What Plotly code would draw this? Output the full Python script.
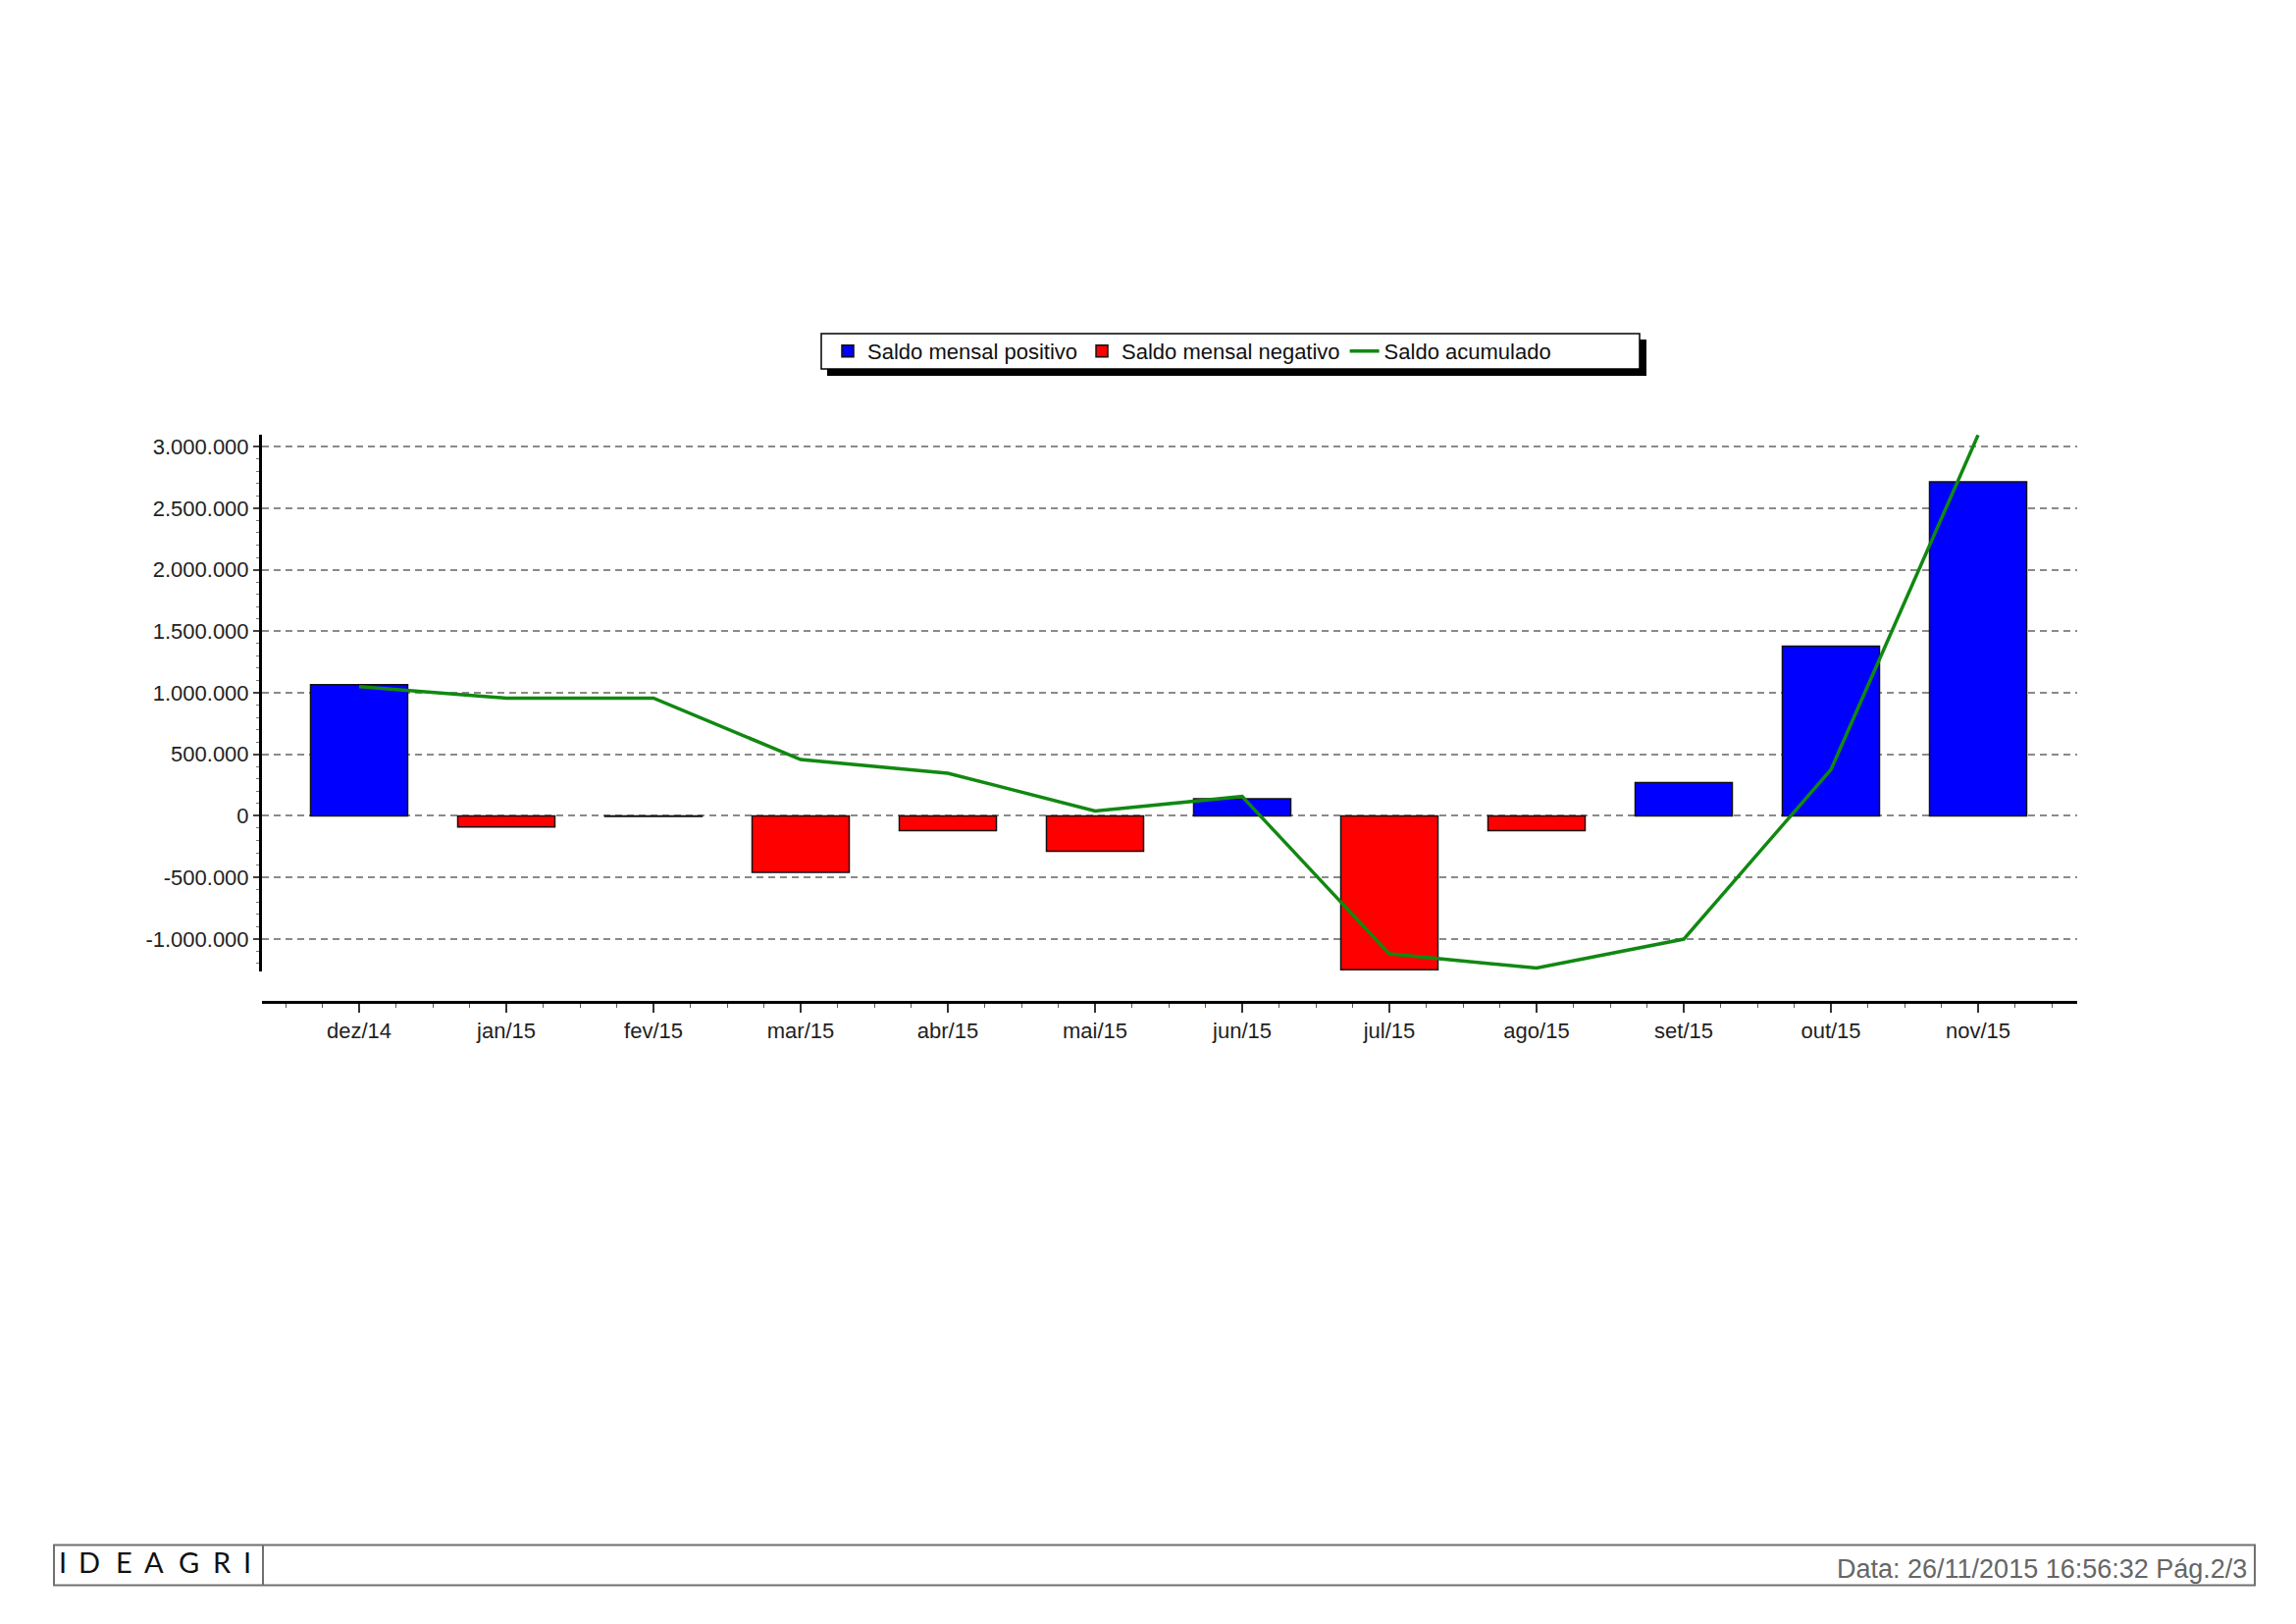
import plotly.graph_objects as go

# ---------------- data ----------------
months = ["dez/14", "jan/15", "fev/15", "mar/15", "abr/15", "mai/15",
          "jun/15", "jul/15", "ago/15", "set/15", "out/15", "nov/15"]
saldo_mensal = [1065000, -90000, -4000, -460000, -120000, -287000,
                138000, -1250000, -120000, 271000, 1378000, 2714000]
saldo_acumulado = [1050000, 957000, 957000, 457000, 346000, 40000,
                   157000, -1122000, -1237000, -1002000, 375000, 3094000]
y_tickvals = [-1000000, -500000, 0, 500000, 1000000, 1500000, 2000000, 2500000, 3000000]
y_ticktext = [f"{v:,}".replace(",", ".") for v in y_tickvals]

series_names = ["Saldo mensal positivo", "Saldo mensal negativo", "Saldo acumulado"]
footer_brand = "IDEAGRI"
footer_text = "Data: 26/11/2015 16:56:32 Pág.2/3"

# ---------------- geometry (page pixels; the html body adds an 8px margin) ----------------
OFF = 8
W, H = 2340 - 2 * OFF, 1655 - 2 * OFF
PL, PR = 267 - OFF, 2117 - OFF      # plot area left / right (figure px)
PT, PB = 443 - OFF, 1020.7 - OFF    # plot area top / x-axis line

def px(x):
    return (x - OFF - PL) / (PR - PL)

def py(y):
    return (PB - (y - OFF)) / (PB - PT)

x_idx = list(range(len(months)))
pos_vals = [v if v > 0 else None for v in saldo_mensal]
neg_vals = [v if v <= 0 else None for v in saldo_mensal]

fig = go.Figure()
fig.add_trace(go.Bar(x=x_idx, y=pos_vals, name=series_names[0], width=0.66,
                     marker=dict(color="#0000FF", line=dict(color="#111111", width=1.5))))
fig.add_trace(go.Bar(x=x_idx, y=neg_vals, name=series_names[1], width=0.66,
                     marker=dict(color="#FF0000", line=dict(color="#111111", width=1.5))))
fig.add_trace(go.Scatter(x=x_idx, y=saldo_acumulado, name=series_names[2], mode="lines",
                         line=dict(color="#118811", width=3.5)))

tick_font = dict(family="Liberation Sans, Arial, sans-serif", size=22, color="#222222")

x0 = (267 - 366) / 150.0
x1 = (2117 - 366) / 150.0
fig.update_layout(
    width=W, height=H,
    margin=dict(l=PL, r=W - PR, t=PT, b=H - PB, pad=0),
    paper_bgcolor="white", plot_bgcolor="white",
    barmode="overlay",
    showlegend=True,
    legend=dict(orientation="h", x=px(844), y=py(358), xanchor="left", yanchor="middle",
                bgcolor="rgba(0,0,0,0)", borderwidth=0,
                font=dict(family="Liberation Sans, Arial, sans-serif", size=22, color="#111111"),
                itemwidth=30, tracegroupgap=0),
    xaxis=dict(range=[x0, x1], tickvals=x_idx, ticktext=months,
               anchor="free", position=0,
               showline=True, linecolor="black", linewidth=3,
               ticks="outside", ticklen=9, tickwidth=2, tickcolor="#333333",
               minor=dict(dtick=0.25, tick0=0, ticks="outside", ticklen=4, tickwidth=1, tickcolor="#555555"),
               showgrid=False, zeroline=False, tickfont=tick_font),
    yaxis=dict(range=[-1263000, 3097000], domain=[py(989.5), 1],
               tickvals=y_tickvals, ticktext=y_ticktext,
               showline=True, linecolor="black", linewidth=3,
               ticks="outside", ticklen=6, tickwidth=2, tickcolor="#444444",
               minor=dict(dtick=100000, ticks="outside", ticklen=3, tickwidth=1, tickcolor="#777777"),
               showgrid=True, gridcolor="#8a8a8a", gridwidth=2, griddash="7px,5px",
               zeroline=False, tickfont=tick_font),
)

shapes = [
    # legend shadow + box
    dict(type="rect", xref="paper", yref="paper", x0=px(843), x1=px(1678), y0=py(346), y1=py(383),
         fillcolor="black", line=dict(width=0), layer="below"),
    dict(type="rect", xref="paper", yref="paper", x0=px(837), x1=px(1671), y0=py(340), y1=py(376),
         fillcolor="white", line=dict(color="black", width=1.5), layer="below"),
    # footer box + divider
    dict(type="rect", xref="paper", yref="paper", x0=px(55), x1=px(2298), y0=py(1574), y1=py(1615),
         fillcolor="rgba(0,0,0,0)", line=dict(color="#707070", width=2)),
    dict(type="line", xref="paper", yref="paper", x0=px(268), x1=px(268), y0=py(1574), y1=py(1615),
         line=dict(color="#707070", width=2)),
]
fig.update_layout(shapes=shapes)

annotations = []
brand_x = [64, 91, 126, 157, 192, 226, 252]
for ch, bx in zip(footer_brand, brand_x):
    annotations.append(dict(text=ch, xref="paper", yref="paper", x=px(bx), y=py(1591),
                            xanchor="center", yanchor="middle", showarrow=False,
                            font=dict(family="Lato, Open Sans, sans-serif", size=29, color="#111111")))
annotations.append(dict(text=footer_text, xref="paper", yref="paper", x=px(2292), y=py(1598),
                        xanchor="right", yanchor="middle", showarrow=False,
                        font=dict(family="Liberation Sans, Arial, sans-serif", size=27, color="#666666")))
fig.update_layout(annotations=annotations)

fig.write_html("out.html")
